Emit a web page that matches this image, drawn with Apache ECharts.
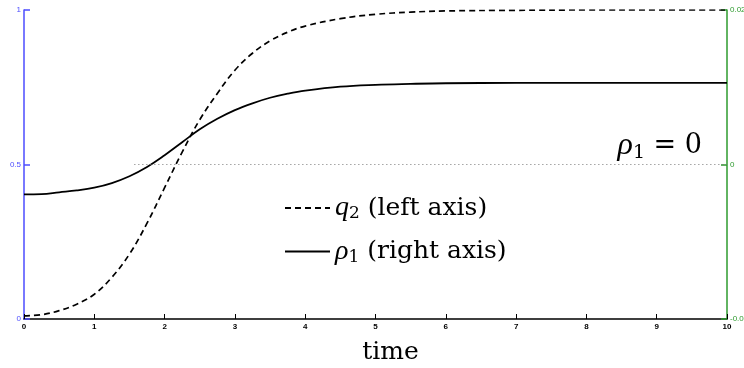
<!DOCTYPE html>
<html>
<head>
<meta charset="utf-8">
<script src="https://cdn.jsdelivr.net/npm/echarts@6/dist/echarts.min.js"></script>
<style>html,body{margin:0;padding:0;background:#fff}#c{width:744px;height:368px}</style>
</head>
<body>
<div id="c"></div>
<script>
const times = [0,0.25,0.5,0.75,1,1.25,1.5,1.75,2,2.25,2.5,2.75,3,3.25,3.5,3.75,4,4.5,5,5.5,6,7,8,9,10];
const q2Values = [0.010,0.014,0.027,0.048,0.080,0.135,0.210,0.310,0.425,0.540,0.645,0.730,0.805,0.860,0.900,0.928,0.948,0.972,0.986,0.993,0.997,0.999,1.0,1.0,1.0];
const rho1Values = [-0.00388,-0.00384,-0.0036,-0.00336,-0.0030,-0.0024,-0.00152,-0.00032,0.0012,0.00288,0.00456,0.00592,0.00704,0.00792,0.00864,0.00916,0.00956,0.01008,0.01032,0.01044,0.01052,0.01056,0.01056,0.01056,0.01056];
const xTicks = [0,1,2,3,4,5,6,7,8,9,10];
const zeroLineStart = 1.57;

const serif = '"DejaVu Serif","Liberation Serif",serif';
const serifT = '"Liberation Serif","DejaVu Serif",serif';
const blue = '#4d4dff', green = '#2e9b2e';
const rich = {
  it: {fontFamily: serifT, fontStyle: 'italic', fontSize: 28, color: '#000'},
  sub: {fontFamily: serif, fontSize: 17, color: '#000', padding: [12,0,0,0]},
  tx: {fontFamily: serif, fontSize: 25, color: '#000'}
};
const richBig = {
  it: {fontFamily: serifT, fontStyle: 'italic', fontSize: 32, color: '#000'},
  sub: {fontFamily: serif, fontSize: 19, color: '#000', padding: [14,0,0,0]},
  tx: {fontFamily: serif, fontSize: 27, color: '#000'}
};

const chart = echarts.init(document.getElementById('c'));
chart.setOption({
  animation: false,
  backgroundColor: '#fff',
  grid: {left: 24, right: 17, top: 10, bottom: 49, containLabel: false, outerBoundsMode: 'none'},
  legend: {
    orient: 'vertical', left: 279, top: 189,
    itemWidth: 45, itemHeight: 14, itemGap: 15,
    data: ['q2', 'rho1'],
    itemStyle: {opacity: 0},
    formatter: n => n === 'q2' ? '{it|q}{sub|2}{tx| (left axis)}' : '{it|ρ}{sub|1}{tx| (right axis)}',
    textStyle: {rich: rich, color: '#000'}
  },
  xAxis: {
    type: 'value', min: 0, max: 10, interval: 1,
    name: 'time', nameLocation: 'middle', nameGap: 21,
    nameTextStyle: {fontFamily: serif, fontSize: 25, color: '#000', padding: [0, 0, 0, 30]},
    axisLine: {lineStyle: {color: '#000', width: 1.5}},
    axisTick: {inside: true, length: 5, lineStyle: {color: '#000'}},
    axisLabel: {fontFamily: 'Liberation Sans, Arial', fontWeight: 'bold', fontSize: 8, color: '#000', margin: 4},
    splitLine: {show: false}
  },
  yAxis: [{
    type: 'value', min: 0, max: 1, interval: 0.5, position: 'left',
    axisLine: {show: true, lineStyle: {color: blue, width: 1.5}},
    axisTick: {show: true, inside: true, length: 6, lineStyle: {color: blue, width: 1.5}},
    axisLabel: {fontFamily: 'Liberation Sans, Arial', fontSize: 8, color: blue, margin: 3},
    splitLine: {show: false}
  }, {
    type: 'value', min: -0.02, max: 0.02, interval: 0.02, position: 'right',
    axisLine: {show: true, lineStyle: {color: green, width: 1.5}},
    axisTick: {show: true, inside: true, length: 6, lineStyle: {color: green, width: 1.5}},
    axisLabel: {fontFamily: 'Liberation Sans, Arial', fontSize: 8, color: green, margin: 3},
    splitLine: {show: false}
  }],
  series: [{
    name: 'q2', type: 'line', yAxisIndex: 0, showSymbol: false, symbol: 'none',
    smooth: 0.4,
    data: times.map((t, i) => [t, q2Values[i]]),
    lineStyle: {color: '#000', width: 1.7, type: [6, 4]},
    itemStyle: {color: '#000'}
  }, {
    name: 'rho1', type: 'line', yAxisIndex: 1, showSymbol: false, symbol: 'none',
    smooth: 0.4,
    data: times.map((t, i) => [t, rho1Values[i]]),
    lineStyle: {color: '#000', width: 1.8},
    itemStyle: {color: '#000'},
    markLine: {
      silent: true, symbol: 'none',
      lineStyle: {type: [1, 3], color: '#777', width: 1},
      label: {
        show: true, position: 'insideEndTop', distance: 2,
        formatter: '{it|ρ}{sub|1}{tx| = 0}', rich: richBig, padding: [0, 23, 0, 0]
      },
      data: [[{coord: [zeroLineStart, 0]}, {coord: [xTicks[xTicks.length - 1], 0]}]]
    }
  }]
});
</script>
</body>
</html>
